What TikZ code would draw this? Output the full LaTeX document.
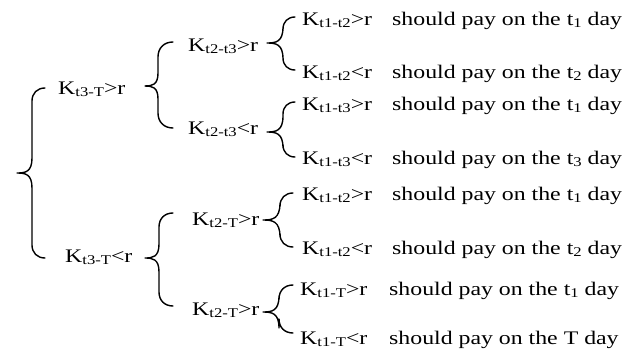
\documentclass[tikz,border=0pt]{standalone}
\usepackage{fontspec}
\setmainfont{Liberation Serif}[FakeStretch=1.24]
% lowered, smaller index text
\newcommand{\lsub}[1]{\raisebox{-0.14em}{\fontsize{13.4}{15}\selectfont #1}}
% left curly brace: #1 hook end x, #2 spine x, #3 tip x, #4 top y, #5 tip y, #6 bottom y
\newcommand{\curlybrace}[6]{%
  \draw[bracestyle] (#1,#4)
    .. controls ({#2+0.4*(#1-#2)},#4) and (#2,{#4+0.4*(#1-#2)}) .. (#2,{#4+(#1-#2)})
    -- (#2,{#5-(#2-#3)})
    .. controls (#2,{#5-1}) and ({#3+0.55*(#2-#3)},#5) .. (#3,#5)
    .. controls ({#3+0.55*(#2-#3)},#5) and (#2,{#5+1}) .. (#2,{#5+(#2-#3)})
    -- (#2,{#6-(#1-#2)})
    .. controls (#2,{#6-0.4*(#1-#2)}) and ({#2+0.4*(#1-#2)},#6) .. (#1,#6);}
\begin{document}
\begin{tikzpicture}[x=1pt,y=-1pt,
  lbl/.style={inner sep=0pt, anchor=base west, font=\fontsize{19.2}{22}\selectfont},
  bracestyle/.style={line width=1.4pt, line join=round, line cap=round}]
\useasboundingbox (0,0) rectangle (644,356);

% first level
\node[lbl] (a) at (58,94) {K\lsub{t3-T}>r};
\node[lbl] (b) at (65,262) {K\lsub{t3-T}<r};

% second level
\node[lbl] (aa) at (188,51) {K\lsub{t2-t3}>r};
\node[lbl] (ab) at (188,134) {K\lsub{t2-t3}<r};
\node[lbl] (ba) at (192,225) {K\lsub{t2-T}>r};
\node[lbl] (bb) at (192,315) {K\lsub{t2-T}>r};

% outcomes
\node[lbl] (k1) at (302,25)  {K\lsub{t1-t2}>r};
\node[lbl] (k2) at (302,78)  {K\lsub{t1-t2}<r};
\node[lbl] (k3) at (302,110) {K\lsub{t1-t3}>r};
\node[lbl] (k4) at (302,164) {K\lsub{t1-t3}<r};
\node[lbl] (k5) at (302,200) {K\lsub{t1-t2}>r};
\node[lbl] (k6) at (302,254) {K\lsub{t1-t2}<r};
\node[lbl] (k7) at (300,295) {K\lsub{t1-T}>r};
\node[lbl] (k8) at (300,344) {K\lsub{t1-T}<r};

\node[lbl] (p1) at (392,25)  {should pay on the t\lsub{1} day};
\node[lbl] (p2) at (392,78)  {should pay on the t\lsub{2} day};
\node[lbl] (p3) at (392,110) {should pay on the t\lsub{1} day};
\node[lbl] (p4) at (392,164) {should pay on the t\lsub{3} day};
\node[lbl] (p5) at (392,200) {should pay on the t\lsub{1} day};
\node[lbl] (p6) at (392,254) {should pay on the t\lsub{2} day};
\node[lbl] (p7) at (389,295) {should pay on the t\lsub{1} day};
\node[lbl] (p8) at (389,344) {should pay on the T day};

% braces
\curlybrace{45}{32}{17}{88}{173}{258}
\curlybrace{173}{158}{145}{42}{86}{128}
\curlybrace{173}{159}{145}{213}{258}{306}
\curlybrace{295}{283}{267}{17}{43}{70}
\curlybrace{295}{283}{267}{102}{132}{157}
\curlybrace{293}{280}{263}{193}{220}{247}
\curlybrace{293}{279}{263}{285}{312}{333}
\end{tikzpicture}
\end{document}
